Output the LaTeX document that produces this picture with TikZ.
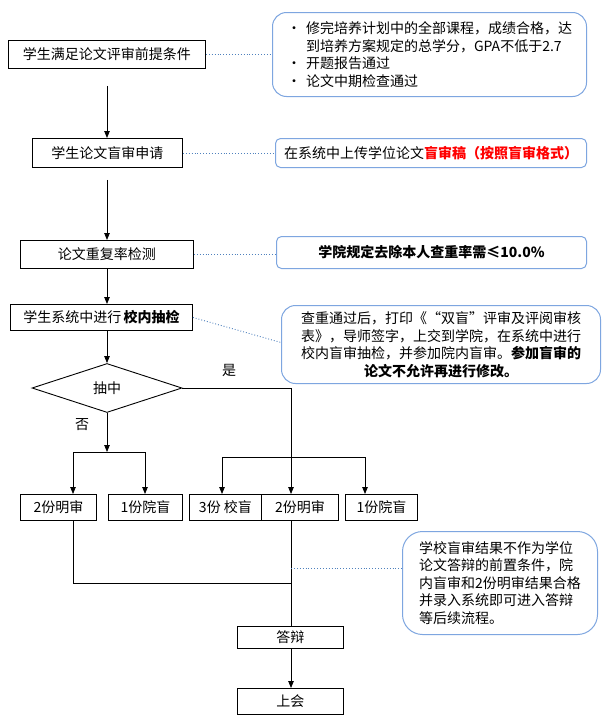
\documentclass[tikz,border=0pt]{standalone}
\usepackage{fontspec}
\setmainfont{Noto Sans CJK SC}
\usetikzlibrary{arrows.meta,shapes.geometric}
\definecolor{cobord}{HTML}{7EA6E0}
\definecolor{codot}{HTML}{4F81BD}
\begin{document}
\begin{tikzpicture}[x=1pt,y=-1pt,
  font=\fontsize{14}{17.5}\selectfont,
  box/.style={draw, line width=0.9pt, inner sep=0pt, anchor=north west},
  note/.style={draw=cobord, line width=1pt, inner sep=0pt, anchor=north west, rounded corners=#1},
  arr/.style={line width=0.8pt, -{Triangle[length=7pt,width=5.5pt]}},
  ln/.style={line width=0.8pt},
  dot/.style={draw=codot, line width=0.9pt, dotted}]
\fill[white] (0,0) rectangle (606,723);
\useasboundingbox (0,0) rectangle (606,723);

% main boxes
\node[box, minimum width=197pt, minimum height=28pt] (s1) at (8,40) {学生满足论文评审前提条件};
\node[box, minimum width=150pt, minimum height=29pt] (s2) at (32,138) {学生论文盲审申请};
\node[box, minimum width=173pt, minimum height=28pt] (s3) at (20,240) {论文重复率检测};
\node[box, minimum width=182pt, minimum height=26pt] (s4) at (10,304) {学生系统中进行\,\textbf{校内抽检}};
\node[diamond, draw, line width=0.9pt, minimum width=150pt, minimum height=49pt, inner sep=0pt] (dia) at (107,388) {抽中};

% callouts
\node[note=14pt, minimum width=314pt, minimum height=84pt, align=left] (c1) at (272,12)
  {\makebox[19pt][l]{•}修完培养计划中的全部课程，成绩合格，达\\
   \hspace*{19pt}到培养方案规定的总学分，GPA不低于2.7\\
   \makebox[19pt][l]{•}开题报告通过\\
   \makebox[19pt][l]{•}论文中期检查通过};
\node[note=5pt, minimum width=311pt, minimum height=29pt] (c2) at (275,138)
  {在系统中上传学位论文\textcolor{red}{\bfseries 盲审稿（按照盲审格式）}};
\node[note=5pt, minimum width=310pt, minimum height=32pt] (c3) at (276,236)
  {\bfseries 学院规定去除本人查重率需≤10.0\%};
\node[note=14pt, minimum width=319pt, minimum height=78pt, align=center] (c4) at (281,305)
  {查重通过后，打印《“双盲”评审及评阅审核\\
   表》，导师签字，上交到学院，在系统中进行\\
   校内盲审抽检，并参加院内盲审。\textbf{参加盲审的}\\
   \textbf{论文不允许再进行修改。}};
\node[note=20pt, minimum width=195pt, minimum height=103pt, align=left] (c5) at (402,531)
  {学校盲审结果不作为学位\\
   论文答辩的前置条件，院\\
   内盲审和2份明审结果合格\\
   并录入系统即可进入答辩\\
   等后续流程。};

% result boxes
\node[box, minimum width=76pt, minimum height=26pt] (b1) at (20,494) {2份明审};
\node[box, minimum width=74pt, minimum height=26pt] (b2) at (108,494) {1份院盲};
\node[box, minimum width=72pt, minimum height=26pt] (b3) at (189,494) {3份 校盲};
\node[box, minimum width=77pt, minimum height=26pt] (b4) at (261,494) {2份明审};
\node[box, minimum width=72pt, minimum height=26pt] (b5) at (345,494) {1份院盲};
\node[box, minimum width=106pt, minimum height=22pt] (db) at (237,626) {答辩};
\node[box, minimum width=106pt, minimum height=26pt] (sh) at (237,688) {上会};

% labels
\node (yes) at (229,370) {是};
\node (no) at (82,425) {否};

% main flow
\draw[arr, shorten <=17pt] (s1.south -| dia.north) -- (s2.north -| dia.north);
\draw[arr, shorten <=12pt] (s2.south -| dia.north) -- (s3.north -| dia.north);
\draw[arr] (s3.south -| dia.north) -- (s4.north -| dia.north);
\draw[arr] (s4.south -| dia.north) -- (dia.north);

% no branch
\coordinate (nj) at (107,452);
\coordinate (nl) at (73,452);
\coordinate (nr) at (145,452);
\draw[arr] (dia.south) -- (nj);
\draw[ln] (nl) -- (nr);
\draw[arr] (nl) -- (nl |- b1.north);
\draw[arr] (nr) -- (nr |- b2.north);

% yes branch
\coordinate (yc) at (291,388);
\coordinate (yl) at (222,457);
\coordinate (yr) at (365,457);
\draw[ln] (dia.east) -- (yc);
\draw[arr] (yc) -- (yc |- b4.north);
\draw[ln] (yl) -- (yr);
\draw[arr] (yl) -- (yl |- b3.north);
\draw[arr] (yr) -- (yr |- b5.north);

% merge
\coordinate (bl) at (73,583);
\coordinate (d5) at (291,568);
\draw[ln] (bl |- b1.south) -- (bl) -- (bl -| yc);
\draw[ln] (yc |- b4.south) -- (yc |- db.north);
\draw[arr] (db.south -| yc) -- (sh.north -| yc);

% dotted connectors
\draw[dot] (s1.east) -- (s1.east -| c1.west);
\draw[dot] (s2.east) -- (s2.east -| c2.west);
\draw[dot] (s3.east) -- (s3.east -| c3.west);
\draw[dot] (s4.east) -- ([yshift=2pt]c4.west);
\draw[dot] (d5) -- (d5 -| c5.west);
\end{tikzpicture}
\end{document}
